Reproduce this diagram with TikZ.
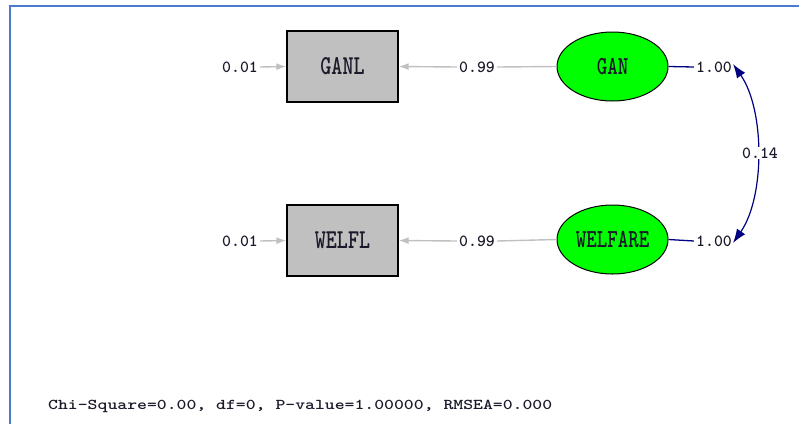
\documentclass[tikz,border=0pt]{standalone}
\usepackage{fontspec}
\usetikzlibrary{arrows.meta,shapes.geometric}
\definecolor{frameblue}{HTML}{4A7BD0}
\definecolor{pathgray}{HTML}{C0C0C0}
\definecolor{covnavy}{HTML}{000080}
\definecolor{latgreen}{HTML}{00FF00}
\definecolor{txtdark}{HTML}{1A1A2A}
\newcommand{\tallname}[1]{\scalebox{1}[1.3]{#1}}
\tikzset{
  obs/.style={draw=black, line width=1.3pt, fill=pathgray, minimum width=111pt, minimum height=71pt, inner sep=0pt, text=txtdark, font=\ttfamily\bfseries\fontsize{21}{24}\selectfont},
  lat/.style={ellipse, draw=black, line width=1pt, fill=latgreen, minimum width=111pt, minimum height=69pt, inner sep=0pt, text=txtdark, font=\ttfamily\bfseries\fontsize{20}{24}\selectfont},
  lab/.style={inner sep=2pt, text=txtdark, font=\ttfamily\bfseries\fontsize{17}{19}\selectfont},
  grayarrow/.style={draw=pathgray, line width=1.4pt, -{Latex[length=10pt,width=7pt]}},
  grayline/.style={draw=pathgray, line width=1.4pt},
  navyline/.style={draw=covnavy, line width=1.3pt},
  covarrow/.style={draw=covnavy, line width=1.2pt, {Latex[length=14pt,width=10pt]}-{Latex[length=14pt,width=10pt]}},
}
\begin{document}
\begin{tikzpicture}[x=1pt,y=-1pt]
\useasboundingbox (0,0) rectangle (799,424);
\draw[frameblue, line width=2.5pt] (10,424) -- (10,6) -- (799,6);

\node[obs] (ganl) at (342.5,66.5) {\tallname{GANL}};
\node[obs] (welfl) at (342.5,240.5) {\tallname{WELFL}};
\node[lat] (gan) at (612.5,66.5) {\tallname{GAN}};
\node[lat] (welfare) at (612.5,239.5) {\tallname{WELFARE}};

\node[lab] (e1) at (240,67) {0.01};
\node[lab] (e2) at (240,241) {0.01};
\draw[grayarrow] (e1.east) -- (ganl.west);
\draw[grayarrow] (e2.east) -- (welfl.west);

\node[lab] (l1) at (477,67) {0.99};
\node[lab] (l2) at (477,241) {0.99};
\draw[grayline] (gan.west) -- (l1.east);
\draw[grayarrow] (l1.west) -- (ganl.east);
\draw[grayline] (welfare.west) -- (l2.east);
\draw[grayarrow] (l2.west) -- (welfl.east);

\node[lab] (v1) at (714,67) {1.00};
\node[lab] (v2) at (714,241) {1.00};
\draw[navyline] (gan.east) -- (v1.west);
\draw[navyline] (welfare.east) -- (v2.west);

\coordinate (c1) at (733,64);
\coordinate (c2) at (733,243);
\draw[covarrow] (c1) .. controls (765,110) and (765,197) .. (c2);
\node[lab, fill=white, inner sep=1pt] (cv) at (760,153) {0.14};

\node[anchor=west, inner sep=0pt, text=txtdark, font=\ttfamily\bfseries\fontsize{15}{17}\selectfont] (fit) at (48,406) {\scalebox{1.255}[1]{Chi-Square=0.00, df=0, P-value=1.00000, RMSEA=0.000}};
\end{tikzpicture}
\end{document}
